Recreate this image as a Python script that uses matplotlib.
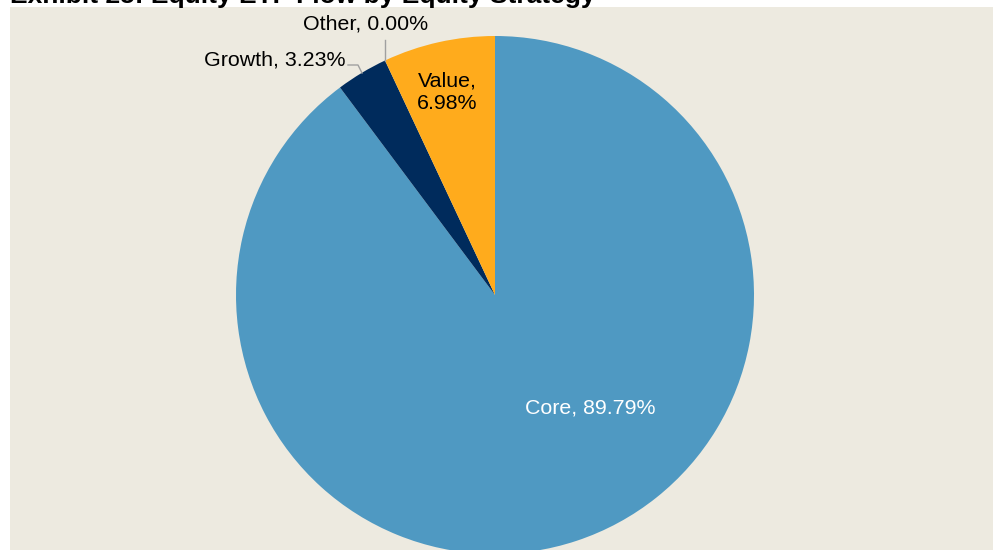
import matplotlib
matplotlib.use("Agg")
import matplotlib.pyplot as plt

categories = ["Core", "Growth", "Other", "Value"]
shares = [89.79, 3.23, 0.00, 6.98]
colors = ["#4F99C2", "#002B5C", "#8C8C8C", "#FFAB1C"]
title = "Exhibit 25: Equity ETF Flow by Equity Strategy"

W, H = 995, 550
fig = plt.figure(figsize=(W / 100, H / 100), dpi=100)
fig.patch.set_facecolor("white")
plt.rcParams["font.family"] = ["Liberation Sans", "DejaVu Sans"]

bg = fig.add_axes([10 / W, 0, (993 - 10) / W, (H - 7) / H], zorder=-5)
bg.set_facecolor("#EDEAE0")
bg.set_xticks([]); bg.set_yticks([])
for s in bg.spines.values():
    s.set_visible(False)

ax = fig.add_axes([0, 0, 1, 1], zorder=1)
ax.set_facecolor("none")
cx, cy, r = 495, H - 295, 259
wedges, _ = ax.pie(shares, colors=colors, startangle=90, counterclock=False,
                   center=(cx, cy), radius=r,
                   wedgeprops=dict(linewidth=0))
ax.set_xlim(0, W)
ax.set_ylim(0, H)
ax.set_aspect("equal")
ax.axis("off")

fs = 15.4
ax.text(590, H - 408, f"{categories[0]}, {shares[0]:.2f}%", color="white",
        fontsize=fs, ha="center", va="center")
ax.text(447, H - 92, f"{categories[3]},\n{shares[3]:.2f}%", color="black",
        fontsize=fs, ha="center", va="center", linespacing=1.2)
ax.text(366, H - 24, f"{categories[2]}, {shares[2]:.2f}%", color="black",
        fontsize=fs, ha="center", va="center")
ax.plot([385, 385], [H - 40, H - 61], color="#A0A0A0", lw=1)
ax.text(345, H - 60, f"{categories[1]}, {shares[1]:.2f}%", color="black",
        fontsize=fs, ha="right", va="center")
ax.plot([348, 358, 362], [H - 65, H - 65, H - 73], color="#A0A0A0", lw=1)

fig.text(10 / W, 1 - 3 / H, title, fontsize=19, fontweight="bold",
         ha="left", va="baseline")

fig.savefig("out.png", dpi=100)
